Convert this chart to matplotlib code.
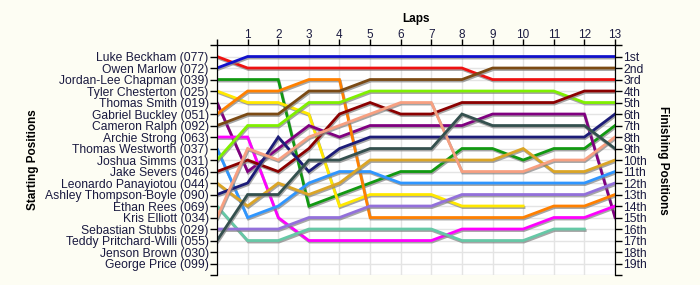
import matplotlib
matplotlib.use('Agg')
import matplotlib.pyplot as plt
import matplotlib.patheffects as pe

plt.rcParams['font.family'] = ['Liberation Sans', 'DejaVu Sans']

laps = list(range(0, 14))

drivers = ['Luke Beckham (077)', 'Owen Marlow (072)', 'Jordan-Lee Chapman (039)',
           'Tyler Chesterton (025)', 'Thomas Smith (019)', 'Gabriel Buckley (051)',
           'Cameron Ralph (092)', 'Archie Strong (063)', 'Thomas Westworth (037)',
           'Joshua Simms (031)', 'Jake Severs (046)', 'Leonardo Panayiotou (044)',
           'Ashley Thompson-Boyle (090)', 'Ethan Rees (069)', 'Kris Elliott (034)',
           'Sebastian Stubbs (029)', 'Teddy Pritchard-Willi (055)', 'Jenson Brown (030)',
           'George Price (099)']

colours = ['#ee1111', '#1111cc', '#119911', '#ffe800', '#800080', '#ff8000',
           '#7b4a14', '#ff00ff', '#2f96ff', '#80f000', '#8b0000', '#dba526',
           '#1c1c78', '#66c8a6', '#f7a081', '#9370db', '#34504e', '#000000',
           '#000000']

# position of each driver at the end of each lap (lap 0 = grid)
luke = [1, 2, 2, 2, 2, 2, 2, 2, 2, 3, 3, 3, 3, 3]
owen = [2, 1, 1, 1, 1, 1, 1, 1, 1, 1, 1, 1, 1, 1]
jordan = [3, 3, 3, 14, 13, 12, 11, 11, 9, 9, 10, 9, 9, 7]
tyler = [4, 5, 5, 6, 14, 13, 13, 13, 14, 14, 14]
thomas_s = [5, 11, 9, 7, 8, 7, 7, 7, 7, 6, 6, 6, 6, 15]
gabriel = [6, 4, 4, 3, 3, 15, 15, 15, 15, 15, 15, 14, 14, 13]
cameron = [7, 6, 6, 4, 4, 3, 3, 3, 3, 2, 2, 2, 2, 2]
archie = [8, 8, 15, 17, 17, 17, 17, 17, 16, 16, 16, 15, 15, 14]
thomas_w = [9, 15, 14, 12, 11, 11, 12, 12, 12, 12, 12, 12, 12, 11]
joshua = [10, 7, 7, 5, 5, 4, 4, 4, 4, 4, 4, 4, 5, 5]
jake = [11, 10, 11, 9, 6, 5, 6, 6, 5, 5, 5, 5, 4, 4]
leonardo = [12, 14, 12, 13, 12, 10, 10, 10, 10, 10, 9, 11, 11, 10]
ashley = [13, 12, 8, 11, 9, 8, 8, 8, 8, 8, 8, 8, 8, 6]
ethan = [14, 17, 17, 16, 16, 16, 16, 16, 17, 17, 17, 16, 16]
kris = [15, 9, 10, 8, 7, 6, 5, 5, 11, 11, 11, 10, 10, 8]
sebastian = [16, 16, 16, 15, 15, 14, 14, 14, 13, 13, 13, 13, 13, 12]
teddy = [17, 13, 13, 10, 10, 9, 9, 9, 6, 7, 7, 7, 7, 9]
jenson = []
george = []

positions = [luke, owen, jordan, tyler, thomas_s, gabriel, cameron, archie, thomas_w,
             joshua, jake, leonardo, ashley, ethan, kris, sebastian, teddy, jenson, george]

finish_labels = ['1st', '2nd', '3rd'] + [f'{i}th' for i in range(4, 20)]
txt = '#1a1a40'

fig = plt.figure(figsize=(7, 2.85), dpi=100, facecolor='#fdfdf3')
ax = fig.add_axes([0.31, 0.035, 0.5686, 0.807])
ax.set_facecolor('white')

shadow = [pe.SimpleLineShadow(offset=(0.6, -1.1), shadow_color='#808080', alpha=0.7), pe.Normal()]
for pos, col in zip(positions, colours):
    if len(pos) == 0:
        continue
    ax.plot(laps[:len(pos)], pos, color=col, lw=2.0, solid_joinstyle='miter',
            path_effects=shadow, zorder=3)

ax.set_xlim(0, 13)
ax.set_ylim(20, 0)
ax.set_xticks(laps)
ax.set_xticklabels([''] + [str(i) for i in laps[1:]], fontsize=8.5, color=txt)
ax.set_yticks(range(0, 21))
ax.set_yticklabels([''] + drivers + [''], fontsize=8.7, color=txt)
ax.xaxis.tick_top()
ax.xaxis.set_label_position('top')
ax.set_xlabel('Laps', fontsize=8.5, fontweight='bold', labelpad=5)
ax.set_ylabel('Starting Positions', fontsize=8.5, fontweight='bold', labelpad=4)
ax.tick_params(axis='y', direction='out', length=5, width=1, pad=1)
ax.tick_params(axis='x', direction='out', length=4, width=1, pad=-1)
ax.grid(True, color='#e4e4e4', lw=1, zorder=0)
ax.spines['bottom'].set_visible(False)

ax2 = ax.twinx()
ax2.set_ylim(20, 0)
ax2.set_yticks(range(0, 21))
ax2.set_yticklabels([''] + finish_labels + [''], fontsize=8.7, color=txt)
ax2.tick_params(axis='y', direction='out', length=5, width=1, pad=1)
ax2.set_ylabel('Finishing Positions', fontsize=8.5, fontweight='bold', rotation=270, labelpad=16)
ax2.spines['bottom'].set_visible(False)

fig.savefig('out.png', dpi=100, facecolor=fig.get_facecolor())
